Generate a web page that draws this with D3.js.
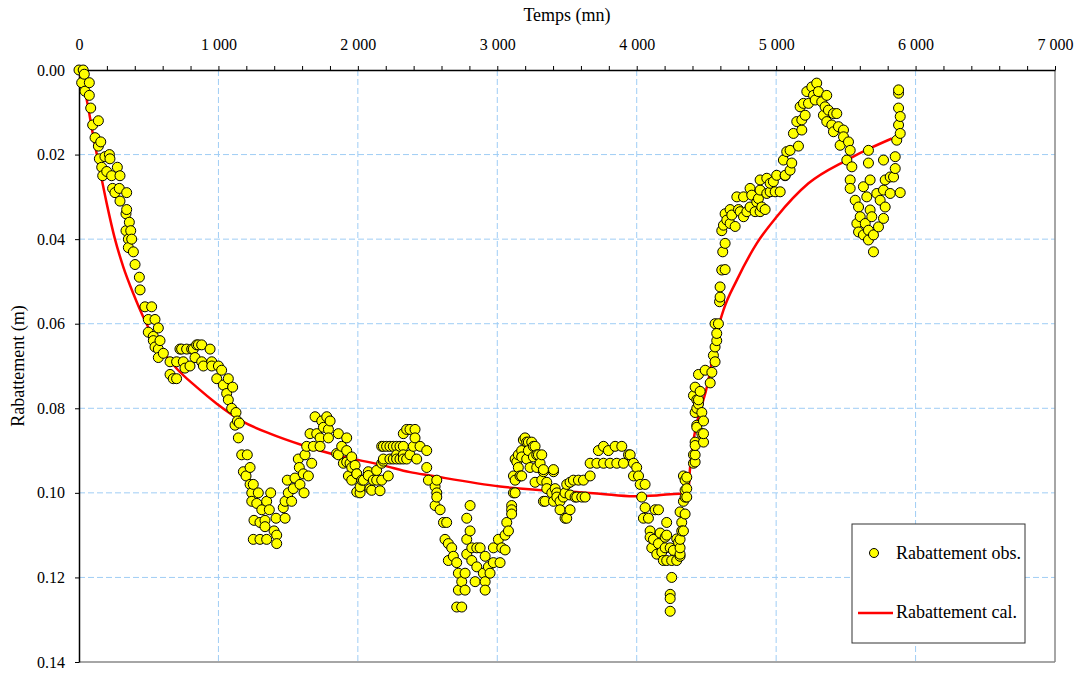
<!DOCTYPE html>
<html>
<head>
<meta charset="utf-8">
<script src="https://cdn.jsdelivr.net/npm/d3@7"></script>
<style>
  body { margin: 0; background: #fff; }
  svg text { font-family: "Liberation Serif", "Times New Roman", serif; fill: #000; }
</style>
</head>
<body>
<div id="chart"></div>
<script>
/* CONSTANTS AND GLOBALS */
const width = 1081;
const height = 675;
const margin = { top: 70, right: 26, bottom: 13, left: 79 };

/* DATA - observed drawdown (time in mn, drawdown in m) */
const obsTime = [
  0, 19, 30, 38, 43, 74, 74, 84, 98, 115, 139, 139, 146, 156, 163, 170, 186, 199, 218, 222,
  234, 241, 258, 275, 289, 294, 294, 337, 337, 342, 342, 354, 354, 361, 371, 378, 390, 402, 433, 438,
  473, 497, 497, 521, 533, 533, 545, 545, 569, 569, 569, 581, 605, 653, 653, 676, 700, 700, 724, 736,
  748, 760, 772, 796, 808, 820, 832, 844, 856, 880, 880, 892, 940, 952, 952, 988, 1000,
  1023, 1035, 1059, 1071, 1071, 1095, 1102, 1119, 1126, 1136, 1143, 1150, 1167, 1179, 1198, 1207, 1227, 1227, 1239, 1239,
  1250, 1250, 1255, 1275, 1286, 1298, 1298, 1311, 1334, 1334, 1346, 1346, 1365, 1375, 1399, 1413, 1418, 1418, 1465, 1478,
  1478, 1494, 1501, 1525, 1537, 1549, 1573, 1580, 1585, 1609, 1614, 1621, 1633, 1645, 1657, 1669, 1681, 1693, 1705, 1729,
  1729, 1741, 1753, 1777, 1789, 1789, 1801, 1848, 1860, 1860, 1884, 1896, 1920, 1920, 1920, 1932, 1944, 1956, 1956, 1956,
  1980, 1992, 1992, 1992,
  2016, 2016, 2028, 2040, 2075, 2075, 2087, 2099, 2111, 2135, 2135, 2159, 2171, 2171, 2171, 2183, 2183, 2183, 2206, 2218,
  2230, 2230, 2254, 2254, 2278, 2278, 2278, 2302, 2302, 2326, 2326, 2326, 2326, 2350, 2350, 2374, 2374, 2398, 2410, 2410,
  2422, 2446, 2494, 2494, 2506, 2554, 2554, 2566, 2566, 2566, 2590, 2614, 2625, 2637,
  2649, 2649, 2673, 2685, 2709, 2709, 2721, 2721, 2745, 2745, 2769, 2769, 2781, 2781, 2781, 2805, 2805, 2817, 2817, 2841,
  2853, 2853, 2877, 2900, 2913, 2913, 2913, 2936, 2948, 2972, 2972, 3008, 3020,
  3032, 3056, 3056, 3068, 3080, 3103, 3103, 3103, 3116, 3116, 3128, 3128, 3128, 3140, 3151, 3151, 3163, 3175, 3175, 3175,
  3187, 3199, 3211, 3211, 3223, 3223, 3235, 3247, 3259, 3259, 3271, 3271, 3283, 3283, 3295, 3307, 3319, 3319, 3331, 3331,
  3331, 3343, 3355, 3355, 3391, 3403, 3403, 3403, 3415, 3427, 3427, 3450, 3450, 3474, 3486, 3486, 3498, 3498, 3522, 3522,
  3522, 3546, 3558, 3570, 3582, 3606, 3618, 3630, 3666, 3666, 3714, 3725, 3762, 3762, 3797, 3809, 3845, 3857, 3893, 3905,
  3941, 3953, 3977, 3977, 4000,
  4013, 4025, 4036, 4048, 4060, 4060, 4084, 4096, 4096, 4108, 4120, 4132, 4144, 4156, 4156, 4168, 4180, 4191, 4204, 4204,
  4215, 4215, 4215, 4240, 4240, 4240, 4240, 4251, 4251, 4263, 4287, 4287, 4300, 4311, 4311, 4311, 4311, 4311, 4323, 4323,
  4335, 4335, 4335, 4347, 4347, 4347, 4347, 4359, 4359, 4359, 4407, 4407, 4407, 4419, 4419, 4419, 4419, 4419, 4419, 4431,
  4431, 4431, 4431, 4443, 4443, 4443, 4455, 4467, 4467, 4479, 4479, 4479, 4491,
  4527, 4539, 4550, 4562, 4562, 4562, 4574, 4574, 4586, 4594, 4598, 4598, 4610, 4610, 4617, 4622, 4634, 4634, 4634, 4646,
  4670, 4670, 4682, 4706, 4718, 4730, 4742, 4766, 4766, 4790, 4813, 4813, 4825, 4849, 4861, 4873, 4885, 4885, 4885, 4897,
  4921, 4933, 4933, 4957, 4957, 4980, 4993, 5004,
  5029, 5052, 5064, 5065, 5076, 5100, 5100, 5112, 5124, 5148, 5160, 5172, 5184, 5184, 5196, 5208, 5220, 5232, 5256, 5268,
  5280, 5291, 5303, 5327, 5339, 5351, 5363, 5363, 5375, 5399, 5411, 5411, 5435, 5447, 5459, 5483, 5483, 5507, 5519, 5531,
  5531, 5531, 5543, 5567, 5579, 5591, 5591, 5603, 5626, 5626, 5639, 5650, 5662, 5662, 5662, 5662, 5674, 5674, 5686, 5698,
  5698, 5722, 5734, 5746, 5770, 5770, 5770, 5782, 5782, 5818, 5818, 5842, 5854, 5854, 5865, 5878, 5878, 5878, 5878, 5890,
  5890, 5890
];
const obsDrawdown = [
  0.000, 0.003, 0.000, 0.001, 0.005, 0.003, 0.006, 0.009, 0.013, 0.016, 0.012, 0.018, 0.021, 0.017, 0.023, 0.025, 0.0205, 0.024, 0.020, 0.021,
  0.025, 0.028, 0.029, 0.023, 0.028, 0.025, 0.031, 0.034, 0.038, 0.029, 0.033, 0.040, 0.042, 0.036, 0.038, 0.040, 0.043, 0.046, 0.049, 0.052,
  0.056, 0.059, 0.062, 0.056, 0.063, 0.064, 0.059, 0.0655, 0.061, 0.066, 0.068, 0.064, 0.067, 0.069, 0.072, 0.073, 0.069, 0.073, 0.066, 0.066,
  0.069, 0.0705, 0.066, 0.070, 0.066, 0.066, 0.068, 0.065, 0.065, 0.065, 0.069, 0.070, 0.066, 0.069, 0.070, 0.073, 0.070,
  0.071, 0.0745, 0.0765, 0.073, 0.078, 0.080, 0.075, 0.084, 0.081, 0.083, 0.087, 0.0835, 0.091, 0.095, 0.096, 0.091, 0.094, 0.098, 0.100, 0.102,
  0.098, 0.111, 0.1065, 0.1025, 0.100, 0.107, 0.111, 0.104, 0.1065, 0.108, 0.102, 0.111, 0.104, 0.100, 0.109, 0.106, 0.110, 0.112, 0.1035, 0.102,
  0.106, 0.097, 0.100, 0.102, 0.099, 0.0965, 0.092, 0.094, 0.098, 0.0955, 0.100, 0.091, 0.089, 0.096, 0.086, 0.093, 0.089, 0.082, 0.086, 0.087,
  0.089, 0.083, 0.0845, 0.082, 0.085, 0.087, 0.083, 0.0907, 0.086, 0.091, 0.089, 0.093, 0.087, 0.090, 0.0927, 0.096, 0.093, 0.0915, 0.094, 0.097,
  0.0935, 0.0955, 0.0955, 0.0998,
  0.100, 0.0986, 0.097, 0.097, 0.095, 0.0959, 0.099, 0.0994, 0.097, 0.097, 0.0947, 0.0995, 0.093, 0.089, 0.097, 0.089, 0.0925, 0.092, 0.089, 0.096,
  0.089, 0.092, 0.089, 0.092, 0.089, 0.091, 0.092, 0.089, 0.092, 0.086, 0.089, 0.091, 0.092, 0.085, 0.092, 0.085, 0.091, 0.089, 0.085, 0.087,
  0.092, 0.089, 0.090, 0.094, 0.097, 0.0985, 0.103, 0.097, 0.100, 0.101, 0.104, 0.107, 0.111, 0.107,
  0.112, 0.116, 0.113, 0.115, 0.1165, 0.127, 0.119, 0.123, 0.121, 0.127, 0.119, 0.123, 0.106, 0.111, 0.1145, 0.103, 0.109, 0.113, 0.116, 0.121,
  0.113, 0.1175, 0.113, 0.119, 0.115, 0.121, 0.123, 0.1175, 0.119, 0.113, 0.1165, 0.111, 0.1165,
  0.113, 0.110, 0.1135, 0.107, 0.109, 0.103, 0.104, 0.105, 0.096, 0.100, 0.092, 0.097, 0.100, 0.0927, 0.091, 0.094, 0.096, 0.090, 0.0915, 0.096,
  0.0875, 0.087, 0.088, 0.092, 0.088, 0.090, 0.094, 0.088, 0.089, 0.0915, 0.089, 0.0975, 0.091, 0.094, 0.091, 0.093, 0.091, 0.097, 0.095, 0.0945,
  0.102, 0.102, 0.0975, 0.099, 0.100, 0.095, 0.0945, 0.102, 0.099, 0.100, 0.101, 0.102, 0.104, 0.101, 0.100, 0.106, 0.098, 0.106, 0.0975, 0.1005,
  0.104, 0.097, 0.101, 0.101, 0.097, 0.101, 0.097, 0.101, 0.096, 0.093, 0.093, 0.090, 0.089, 0.093, 0.090, 0.093, 0.089, 0.093, 0.089, 0.093,
  0.091, 0.091, 0.093, 0.096, 0.094,
  0.096, 0.098, 0.101, 0.106, 0.098, 0.1035, 0.106, 0.109, 0.1105, 0.113, 0.111, 0.104, 0.1145, 0.104, 0.112, 0.1095, 0.114, 0.116, 0.1105, 0.113,
  0.107, 0.116, 0.110, 0.113, 0.124, 0.125, 0.128, 0.116, 0.120, 0.1136, 0.116, 0.1109, 0.1117, 0.115, 0.1145, 0.113, 0.111, 0.1045, 0.107, 0.109,
  0.109, 0.102, 0.096, 0.105, 0.101, 0.097, 0.0994, 0.099, 0.101, 0.0963, 0.077, 0.091, 0.093, 0.0927, 0.091, 0.088, 0.081, 0.0888, 0.075, 0.084,
  0.080, 0.078, 0.0845, 0.079, 0.078, 0.072, 0.076, 0.081, 0.086, 0.088, 0.086, 0.083, 0.071,
  0.074, 0.0715, 0.0675, 0.069, 0.0655, 0.060, 0.064, 0.0623, 0.060, 0.0548, 0.0537, 0.0513, 0.0473, 0.038, 0.043, 0.0367, 0.0472, 0.041, 0.034, 0.0355,
  0.0363, 0.033, 0.0343, 0.037, 0.030, 0.033, 0.0335, 0.030, 0.0347, 0.0335, 0.028, 0.0324, 0.0296, 0.0335, 0.0312, 0.0304, 0.0284, 0.026, 0.0335, 0.0324,
  0.033, 0.0256, 0.0292, 0.0288, 0.0268, 0.0264, 0.0288, 0.0249,
  0.0288, 0.0213, 0.025, 0.0249, 0.0193, 0.019, 0.0237, 0.022, 0.015, 0.0122, 0.018, 0.0087, 0.0142, 0.0118, 0.0079, 0.0107, 0.0051, 0.0079, 0.004, 0.006,
  0.0071, 0.0031, 0.0051, 0.0075, 0.0107, 0.0087, 0.006, 0.0122, 0.0095, 0.013, 0.0103, 0.0146, 0.0103, 0.0134, 0.0178, 0.0142, 0.0158, 0.0213, 0.017, 0.019,
  0.026, 0.028, 0.0229, 0.0308, 0.0363, 0.0324, 0.0383, 0.0347, 0.0276, 0.039, 0.0363, 0.030, 0.019, 0.022, 0.0379, 0.0402, 0.026, 0.0331, 0.0347, 0.039,
  0.043, 0.0292, 0.0371, 0.0308, 0.0284, 0.0213, 0.0351, 0.0324, 0.026, 0.0253, 0.0292, 0.0253, 0.0233, 0.0205, 0.0166, 0.013, 0.009, 0.0055, 0.0047, 0.029,
  0.015, 0.011
];

/* DATA - calculated drawdown */
const calTime = [0, 55, 103, 150, 199, 258, 318, 390, 461, 533, 700, 844, 988, 1179, 1370, 1609, 1848, 2183, 2374, 2518,
  3020, 3737, 3977, 4144, 4311, 4370, 4383, 4514, 4586, 4622, 4718, 4861, 5004, 5232, 5507, 5674, 5830];
const calDrawdown = [0, 0.007, 0.0158, 0.0237, 0.0316, 0.040, 0.0466, 0.0529, 0.0584, 0.0631, 0.0706, 0.075, 0.0789, 0.0832, 0.086, 0.0888, 0.0911, 0.0935, 0.0951, 0.0959,
  0.0985, 0.1002, 0.1008, 0.1006, 0.1002, 0.1002, 0.0939, 0.0734, 0.0608, 0.0568, 0.0497, 0.041, 0.0347, 0.0268, 0.0213, 0.0185, 0.0162];

/* AXIS TICKS AND LABELS */
const xTicks = d3.range(0, 7001, 200);
const xGrid = [1000, 2000, 3000, 4000, 5000, 6000];
const yTicks = [0, 0.02, 0.04, 0.06, 0.08, 0.10, 0.12, 0.14];
const yGrid = [0.02, 0.04, 0.06, 0.08, 0.10, 0.12];
const xTitle = "Temps (mn)";
const yTitle = "Rabattement (m)";
const legendLabels = ["Rabattement obs.", "Rabattement cal."];

/* SCALES */
const x = d3.scaleLinear().domain([0, 7000]).range([margin.left, width - margin.right]);
const y = d3.scaleLinear().domain([0, 0.14]).range([margin.top, height - margin.bottom]);

const frLocale = d3.formatLocale({ decimal: ".", thousands: " ", grouping: [3], currency: ["", ""] });
const fmtThousands = frLocale.format(",");

/* HTML ELEMENTS */
const svg = d3.select("#chart")
  .append("svg")
  .attr("width", width)
  .attr("height", height);

// grid
svg.append("g")
  .selectAll("line")
  .data(xGrid)
  .join("line")
  .attr("x1", d => x(d)).attr("x2", d => x(d))
  .attr("y1", y(0)).attr("y2", y(0.14))
  .attr("stroke", "#9fcdf5").attr("stroke-width", 1).attr("stroke-dasharray", "6,3");

svg.append("g")
  .selectAll("line")
  .data(yGrid)
  .join("line")
  .attr("x1", x(0)).attr("x2", x(7000))
  .attr("y1", d => y(d)).attr("y2", d => y(d))
  .attr("stroke", "#9fcdf5").attr("stroke-width", 1).attr("stroke-dasharray", "6,3");

// frame right / bottom
svg.append("line")
  .attr("x1", x(7000)).attr("x2", x(7000)).attr("y1", y(0)).attr("y2", y(0.14))
  .attr("stroke", "#888").attr("stroke-width", 1.5);
svg.append("line")
  .attr("x1", x(0)).attr("x2", x(7000)).attr("y1", y(0.14)).attr("y2", y(0.14))
  .attr("stroke", "#888").attr("stroke-width", 1.5);

// axes
const xAxis = d3.axisTop(x)
  .tickValues(xTicks)
  .tickFormat(d => d % 1000 === 0 ? fmtThousands(d) : "")
  .tickSize(4)
  .tickSizeOuter(0)
  .tickPadding(16);

svg.append("g")
  .attr("transform", `translate(0,${y(0)})`)
  .call(xAxis)
  .call(g => g.selectAll("text").style("font-size", "16px").style("font-family", "Liberation Serif"))
  .call(g => g.select(".domain").attr("stroke-width", 1.5));

const yAxis = d3.axisLeft(y)
  .tickValues(yTicks)
  .tickFormat(d3.format(".2f"))
  .tickSize(4)
  .tickSizeOuter(0)
  .tickPadding(10);

svg.append("g")
  .attr("transform", `translate(${x(0)},0)`)
  .call(yAxis)
  .call(g => g.selectAll("text").style("font-size", "16px").style("font-family", "Liberation Serif"))
  .call(g => g.select(".domain").attr("stroke-width", 1.5));

// titles
svg.append("text")
  .attr("x", (x(0) + x(7000)) / 2)
  .attr("y", 21)
  .attr("text-anchor", "middle")
  .style("font-size", "18px")
  .text(xTitle);

svg.append("text")
  .attr("transform", `translate(24,${(y(0) + y(0.14)) / 2}) rotate(-90)`)
  .attr("text-anchor", "middle")
  .style("font-size", "18px")
  .text(yTitle);

// calculated line
const obs = obsTime.map((t, i) => ({ t: t, s: obsDrawdown[i] }));
const cal = calTime.map((t, i) => ({ t: t, s: calDrawdown[i] }));

const line = d3.line()
  .x(d => x(d.t))
  .y(d => y(d.s))
  .curve(d3.curveMonotoneX);

svg.append("path")
  .datum(cal)
  .attr("d", line)
  .attr("fill", "none")
  .attr("stroke", "#ff0000")
  .attr("stroke-width", 2.5);

// observed points
svg.append("g")
  .selectAll("circle")
  .data(obs)
  .join("circle")
  .attr("cx", d => x(d.t))
  .attr("cy", d => y(d.s))
  .attr("r", 5)
  .attr("fill", "#ffff00")
  .attr("stroke", "#000")
  .attr("stroke-width", 1);

// legend
const legend = svg.append("g").attr("transform", "translate(852,524)");
legend.append("rect")
  .attr("width", 173).attr("height", 119)
  .attr("fill", "#fff").attr("stroke", "#333").attr("stroke-width", 1);
legend.append("circle")
  .attr("cx", 22).attr("cy", 29).attr("r", 4.5)
  .attr("fill", "#ffff00").attr("stroke", "#000").attr("stroke-width", 1);
legend.append("line")
  .attr("x1", 6).attr("x2", 41).attr("y1", 89).attr("y2", 89)
  .attr("stroke", "#ff0000").attr("stroke-width", 2.5);
legend.selectAll("text.lab")
  .data(legendLabels)
  .join("text")
  .attr("class", "lab")
  .attr("x", 44)
  .attr("y", (d, i) => i === 0 ? 35 : 94)
  .style("font-size", "18px")
  .text(d => d);
</script>
</body>
</html>
